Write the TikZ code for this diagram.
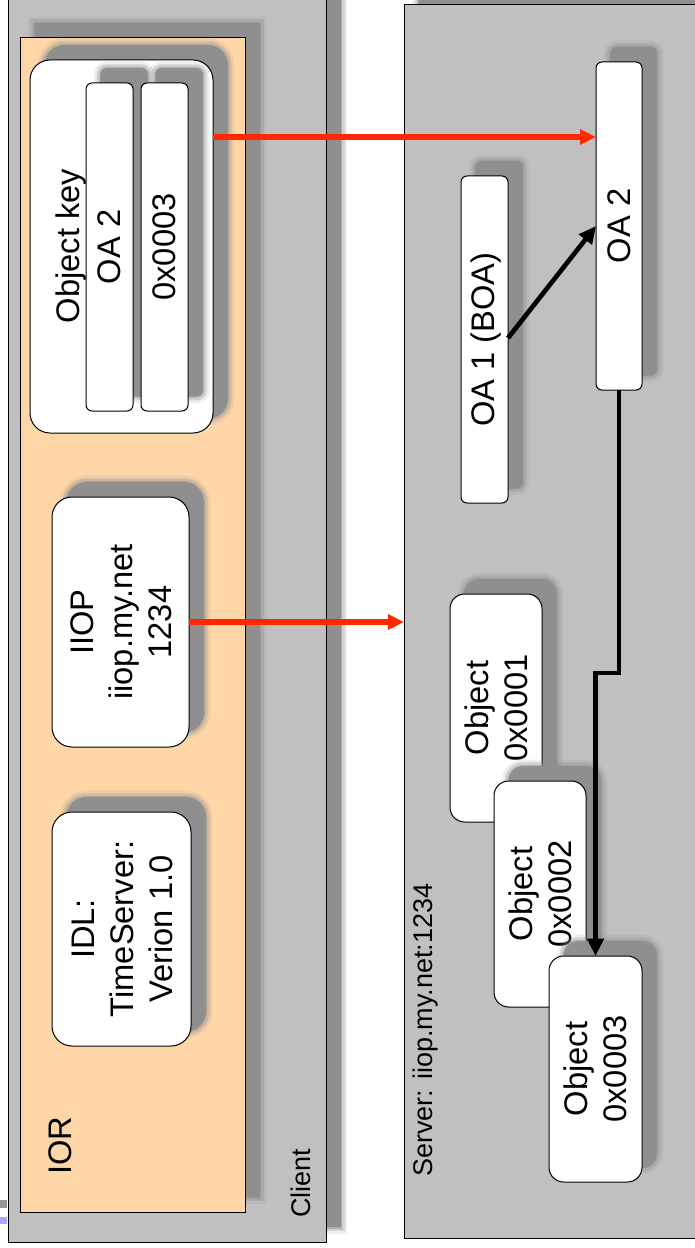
\documentclass[tikz,border=0pt]{standalone}
\usepackage{fontspec}
\setmainfont{Liberation Sans}
\usetikzlibrary{fit,shadows,arrows.meta}
\definecolor{panel}{RGB}{192,192,192}
\definecolor{peach}{RGB}{255,214,168}
\definecolor{shd}{RGB}{143,143,143}
\definecolor{arrred}{RGB}{255,40,0}
\definecolor{artblue}{RGB}{168,168,255}
\definecolor{artgray}{RGB}{150,150,150}
\newcommand\bigtxt{\fontsize{24.5}{29.3}\selectfont}
\newcommand\lbltxt{\fontsize{20.25}{24}\selectfont}
\tikzset{
  shadowed/.style={
    general shadow={shadow xshift=11pt,shadow yshift=11pt,fill=shd,draw=shd,line width=10pt,opacity=0.15},
    general shadow={shadow xshift=11pt,shadow yshift=11pt,fill=shd,draw=shd,line width=6pt,opacity=0.3},
    general shadow={shadow xshift=11pt,shadow yshift=11pt,fill=shd,draw=shd,line width=2pt,opacity=0.5},
    general shadow={shadow xshift=11pt,shadow yshift=11pt,fill=shd,opacity=1}},
  panelbox/.style={draw=black,line width=0.75pt,fill=panel,inner sep=0pt,outer sep=0pt,shadowed},
  iorbox/.style={draw=black,line width=0.75pt,fill=peach,inner sep=0pt,outer sep=0pt,shadowed},
  wbox/.style={draw=black,line width=0.75pt,fill=white,inner sep=0pt,outer sep=0pt,shadowed},
  bigrnd/.style={wbox,rounded corners=15pt},
  objrnd/.style={wbox,rounded corners=11pt},
  slim/.style={wbox,rounded corners=4.5pt},
  boxtext/.style={font=\bigtxt,rotate=90,inner sep=0pt,align=center},
  biglbl/.style={font=\bigtxt,rotate=90,inner sep=0pt},
  smlbl/.style={font=\lbltxt,rotate=90,inner sep=0pt},
  redarr/.style={draw=arrred,line width=3.8pt,-{Triangle[length=12pt,width=11pt]}},
  blkarr/.style={draw=black,line width=3.5pt,-{Triangle[length=13pt,width=12pt]}},
}
\begin{document}
\begin{tikzpicture}[x=0.75pt,y=-0.75pt]
\useasboundingbox (0,0) rectangle (695,1248);
\fill[white] (0,0) rectangle (695,1248);
% slide artefacts at left edge
\fill[artgray] (0,1200) rectangle (7,1208);
\fill[artblue] (0,1217) rectangle (7,1224);

% client side
\node[panelbox,fit={(8,-40)(326,1242)}] (client) {};
\node[smlbl,anchor=base west] (clientl) at (310,1218) {Client};
\node[iorbox,fit={(20,38)(245,1212)}] (ior) {};
\node[biglbl,anchor=base west] (iorl) at (71,1175) {IOR};

\node[bigrnd,fit={(30,60)(213,433)}] (okey) {};
\node[biglbl,anchor=base] (okeyl) at (79,246) {Object key};
\node[slim,fit={(86,83)(133,411)}] (koa) {};
\node[boxtext] (koat) at (koa.center) {OA 2};
\node[slim,fit={(141,83)(188,411)}] (kid) {};
\node[boxtext] (kidt) at (kid.center) {0x0003};

\node[bigrnd,fit={(52,497)(189,747)}] (iiop) {};
\node[boxtext] (iiopt) at ([xshift=0.5pt]iiop.center) {IIOP\\iiop.my.net\\1234};
\node[bigrnd,fit={(52,812)(191,1046)}] (idl) {};
\node[boxtext] (idlt) at ([xshift=0.5pt]idl.center) {IDL:\\TimeServer:\\Verion 1.0};

% server side
\node[panelbox,fit={(404,5)(740,1238)}] (server) {};
\node[smlbl,anchor=base west] (serverl) at (432,1177) {Server: iiop.my.net:1234};

\node[slim,fit={(461,176)(508,503)}] (oa1) {};
\node[boxtext] (oa1t) at ([xshift=1pt]oa1.center) {OA 1 (BOA)};
\node[slim,fit={(596,62)(642,390)}] (oa2) {};
\node[boxtext] (oa2t) at (oa2.center) {OA 2};

\node[objrnd,fit={(450,594)(542,822)}] (o1) {};
\node[boxtext] (o1t) at (o1.center) {Object\\0x0001};
\node[objrnd,fit={(494,781)(586,1007)}] (o2) {};
\node[boxtext] (o2t) at (o2.center) {Object\\0x0002};
\node[objrnd,fit={(549,956)(642,1182)}] (o3) {};
\node[boxtext] (o3t) at (o3.center) {Object\\0x0003};

% connectors
\coordinate (r1) at (0,137);
\coordinate (b1) at (0,338);
\coordinate (b2) at (0,673);
\draw[redarr] (okey.east |- r1) -- (oa2.west |- r1);
\draw[redarr] (iiop.east) -- (server.west |- iiop.east);
\draw[blkarr] (oa1.east |- b1) -- (oa2.west);
\draw[blkarr] (oa2.south) -- (oa2.south |- b2) -- (o3.north |- b2) -- (o3.north);
\end{tikzpicture}
\end{document}
